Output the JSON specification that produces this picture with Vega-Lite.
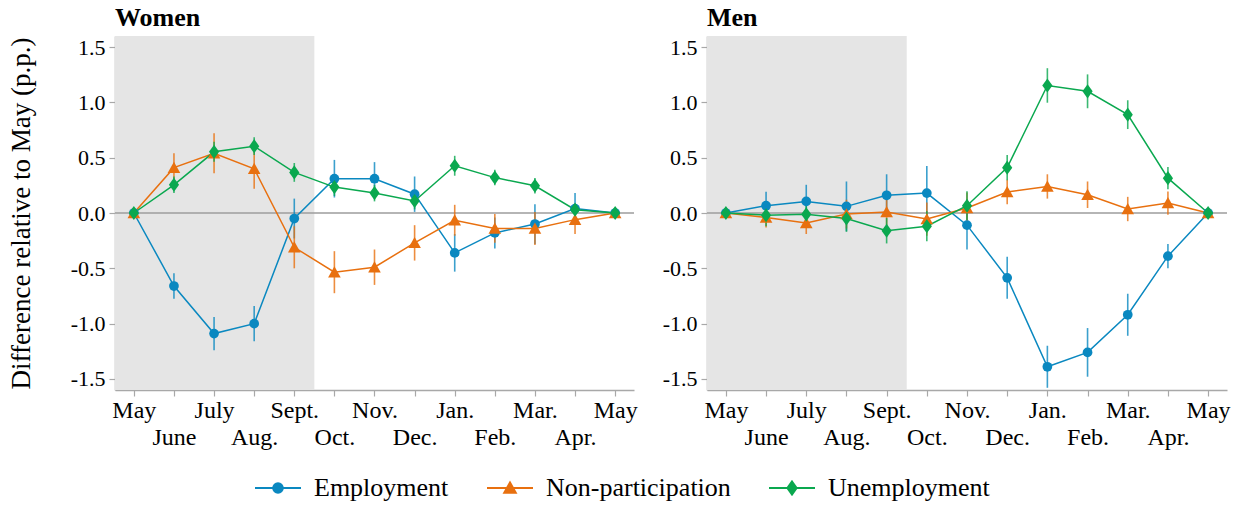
{
  "$schema": "https://vega.github.io/schema/vega-lite/v6.json",
  "padding": {"left": 7, "top": 5, "right": 5, "bottom": 5},
  "datasets": {
    "d": [
      {"g":"Women","s":"Employment","m":0,"v":0,"lo":0,"hi":0},
      {"g":"Women","s":"Employment","m":1,"v":-0.66,"lo":-0.775,"hi":-0.545},
      {"g":"Women","s":"Employment","m":2,"v":-1.09,"lo":-1.24,"hi":-0.94},
      {"g":"Women","s":"Employment","m":3,"v":-1.0,"lo":-1.16,"hi":-0.84},
      {"g":"Women","s":"Employment","m":4,"v":-0.05,"lo":-0.23,"hi":0.13},
      {"g":"Women","s":"Employment","m":5,"v":0.31,"lo":0.14,"hi":0.48},
      {"g":"Women","s":"Employment","m":6,"v":0.31,"lo":0.16,"hi":0.46},
      {"g":"Women","s":"Employment","m":7,"v":0.17,"lo":0.01,"hi":0.33},
      {"g":"Women","s":"Employment","m":8,"v":-0.36,"lo":-0.53,"hi":-0.19},
      {"g":"Women","s":"Employment","m":9,"v":-0.18,"lo":-0.32,"hi":-0.04},
      {"g":"Women","s":"Employment","m":10,"v":-0.1,"lo":-0.28,"hi":0.08},
      {"g":"Women","s":"Employment","m":11,"v":0.04,"lo":-0.1,"hi":0.18},
      {"g":"Women","s":"Employment","m":12,"v":0,"lo":0,"hi":0},
      {"g":"Women","s":"Non-participation","m":0,"v":0,"lo":-0.03,"hi":0.03},
      {"g":"Women","s":"Non-participation","m":1,"v":0.41,"lo":0.28,"hi":0.54},
      {"g":"Women","s":"Non-participation","m":2,"v":0.54,"lo":0.36,"hi":0.72},
      {"g":"Women","s":"Non-participation","m":3,"v":0.4,"lo":0.22,"hi":0.58},
      {"g":"Women","s":"Non-participation","m":4,"v":-0.31,"lo":-0.5,"hi":-0.12},
      {"g":"Women","s":"Non-participation","m":5,"v":-0.535,"lo":-0.725,"hi":-0.345},
      {"g":"Women","s":"Non-participation","m":6,"v":-0.49,"lo":-0.65,"hi":-0.33},
      {"g":"Women","s":"Non-participation","m":7,"v":-0.27,"lo":-0.43,"hi":-0.11},
      {"g":"Women","s":"Non-participation","m":8,"v":-0.066,"lo":-0.206,"hi":0.074},
      {"g":"Women","s":"Non-participation","m":9,"v":-0.14,"lo":-0.27,"hi":-0.01},
      {"g":"Women","s":"Non-participation","m":10,"v":-0.14,"lo":-0.29,"hi":0.01},
      {"g":"Women","s":"Non-participation","m":11,"v":-0.06,"lo":-0.19,"hi":0.07},
      {"g":"Women","s":"Non-participation","m":12,"v":0,"lo":-0.03,"hi":0.03},
      {"g":"Women","s":"Unemployment","m":0,"v":0,"lo":0,"hi":0},
      {"g":"Women","s":"Unemployment","m":1,"v":0.255,"lo":0.18,"hi":0.33},
      {"g":"Women","s":"Unemployment","m":2,"v":0.553,"lo":0.463,"hi":0.643},
      {"g":"Women","s":"Unemployment","m":3,"v":0.604,"lo":0.524,"hi":0.684},
      {"g":"Women","s":"Unemployment","m":4,"v":0.367,"lo":0.282,"hi":0.452},
      {"g":"Women","s":"Unemployment","m":5,"v":0.234,"lo":0.154,"hi":0.314},
      {"g":"Women","s":"Unemployment","m":6,"v":0.18,"lo":0.105,"hi":0.255},
      {"g":"Women","s":"Unemployment","m":7,"v":0.108,"lo":0.033,"hi":0.183},
      {"g":"Women","s":"Unemployment","m":8,"v":0.427,"lo":0.337,"hi":0.517},
      {"g":"Women","s":"Unemployment","m":9,"v":0.32,"lo":0.25,"hi":0.39},
      {"g":"Women","s":"Unemployment","m":10,"v":0.246,"lo":0.176,"hi":0.316},
      {"g":"Women","s":"Unemployment","m":11,"v":0.03,"lo":-0.015,"hi":0.075},
      {"g":"Women","s":"Unemployment","m":12,"v":0,"lo":0,"hi":0},
      {"g":"Men","s":"Employment","m":0,"v":0,"lo":0,"hi":0},
      {"g":"Men","s":"Employment","m":1,"v":0.066,"lo":-0.059,"hi":0.191},
      {"g":"Men","s":"Employment","m":2,"v":0.105,"lo":-0.045,"hi":0.255},
      {"g":"Men","s":"Employment","m":3,"v":0.06,"lo":-0.165,"hi":0.285},
      {"g":"Men","s":"Employment","m":4,"v":0.16,"lo":-0.03,"hi":0.35},
      {"g":"Men","s":"Employment","m":5,"v":0.18,"lo":-0.065,"hi":0.425},
      {"g":"Men","s":"Employment","m":6,"v":-0.11,"lo":-0.33,"hi":0.11},
      {"g":"Men","s":"Employment","m":7,"v":-0.586,"lo":-0.776,"hi":-0.396},
      {"g":"Men","s":"Employment","m":8,"v":-1.39,"lo":-1.58,"hi":-1.2},
      {"g":"Men","s":"Employment","m":9,"v":-1.26,"lo":-1.48,"hi":-1.04},
      {"g":"Men","s":"Employment","m":10,"v":-0.92,"lo":-1.11,"hi":-0.73},
      {"g":"Men","s":"Employment","m":11,"v":-0.39,"lo":-0.5,"hi":-0.28},
      {"g":"Men","s":"Employment","m":12,"v":0,"lo":0,"hi":0},
      {"g":"Men","s":"Non-participation","m":0,"v":0,"lo":-0.03,"hi":0.03},
      {"g":"Men","s":"Non-participation","m":1,"v":-0.04,"lo":-0.13,"hi":0.05},
      {"g":"Men","s":"Non-participation","m":2,"v":-0.09,"lo":-0.19,"hi":0.01},
      {"g":"Men","s":"Non-participation","m":3,"v":-0.01,"lo":-0.14,"hi":0.12},
      {"g":"Men","s":"Non-participation","m":4,"v":0.01,"lo":-0.11,"hi":0.13},
      {"g":"Men","s":"Non-participation","m":5,"v":-0.055,"lo":-0.205,"hi":0.095},
      {"g":"Men","s":"Non-participation","m":6,"v":0.045,"lo":-0.095,"hi":0.185},
      {"g":"Men","s":"Non-participation","m":7,"v":0.19,"lo":0.08,"hi":0.3},
      {"g":"Men","s":"Non-participation","m":8,"v":0.24,"lo":0.13,"hi":0.35},
      {"g":"Men","s":"Non-participation","m":9,"v":0.165,"lo":0.045,"hi":0.285},
      {"g":"Men","s":"Non-participation","m":10,"v":0.036,"lo":-0.074,"hi":0.146},
      {"g":"Men","s":"Non-participation","m":11,"v":0.09,"lo":-0.015,"hi":0.195},
      {"g":"Men","s":"Non-participation","m":12,"v":0,"lo":-0.03,"hi":0.03},
      {"g":"Men","s":"Unemployment","m":0,"v":0,"lo":-0.03,"hi":0.03},
      {"g":"Men","s":"Unemployment","m":1,"v":-0.02,"lo":-0.12,"hi":0.08},
      {"g":"Men","s":"Unemployment","m":2,"v":-0.012,"lo":-0.112,"hi":0.088},
      {"g":"Men","s":"Unemployment","m":3,"v":-0.05,"lo":-0.17,"hi":0.07},
      {"g":"Men","s":"Unemployment","m":4,"v":-0.16,"lo":-0.275,"hi":-0.045},
      {"g":"Men","s":"Unemployment","m":5,"v":-0.12,"lo":-0.255,"hi":0.015},
      {"g":"Men","s":"Unemployment","m":6,"v":0.066,"lo":-0.064,"hi":0.196},
      {"g":"Men","s":"Unemployment","m":7,"v":0.41,"lo":0.295,"hi":0.525},
      {"g":"Men","s":"Unemployment","m":8,"v":1.153,"lo":0.997,"hi":1.309},
      {"g":"Men","s":"Unemployment","m":9,"v":1.1,"lo":0.947,"hi":1.253},
      {"g":"Men","s":"Unemployment","m":10,"v":0.889,"lo":0.759,"hi":1.019},
      {"g":"Men","s":"Unemployment","m":11,"v":0.315,"lo":0.215,"hi":0.415},
      {"g":"Men","s":"Unemployment","m":12,"v":0,"lo":0,"hi":0}
    ],
    "bands": [
      {"g":"Women","start":-0.47,"end":4.5,"zero":0},
      {"g":"Men","start":-0.47,"end":4.5,"zero":0}
    ]
  },
  "hconcat": [
    {
      "title": {"text": "Women"},
      "width": 519,
      "height": 354,
      "layer": [
        {"data": {"name": "d"}, "transform": [{"filter": "datum.g == 'None'"}],
          "mark": {"type": "point", "filled": false, "strokeWidth": 2},
          "encoding": {
            "x": {"field": "m", "type": "quantitative"},
            "y": {"field": "v", "type": "quantitative"},
            "color": {"field": "s", "type": "nominal", "title": null,
              "scale": {"domain": ["Employment","Non-participation","Unemployment"], "range": ["#0a88c0","#e8700f","#0aa84f"]},
              "legend": {"title": null}},
            "shape": {"field": "s", "type": "nominal", "title": null,
              "scale": {"domain": ["Employment","Non-participation","Unemployment"],
                "range": [
                  "M-1,0H1M-0.21,0A0.21,0.21,0,1,0,0.21,0A0.21,0.21,0,1,0,-0.21,0ZM-0.16,0A0.16,0.16,0,1,0,0.16,0A0.16,0.16,0,1,0,-0.16,0ZM-0.11,0A0.11,0.11,0,1,0,0.11,0A0.11,0.11,0,1,0,-0.11,0ZM-0.06,0A0.06,0.06,0,1,0,0.06,0A0.06,0.06,0,1,0,-0.06,0ZM-0.02,0A0.02,0.02,0,1,0,0.02,0A0.02,0.02,0,1,0,-0.02,0Z",
                  "M-1,0H1M0,-0.24L0.25,0.21L-0.25,0.21ZM0,-0.15L0.17,0.17L-0.17,0.17ZM0,-0.06L0.1,0.13L-0.1,0.13ZM0,0.02L0.03,0.09L-0.03,0.09Z",
                  "M-1,0H1M0,-0.28L0.2,0L0,0.28L-0.2,0ZM0,-0.2L0.14,0L0,0.2L-0.14,0ZM0,-0.12L0.085,0L0,0.12L-0.085,0ZM0,-0.045L0.03,0L0,0.045L-0.03,0Z"
                ]},
              "legend": {"title": null}}}},
        {"data": {"name": "bands"}, "transform": [{"filter": "datum.g == 'Women'"}],
          "mark": {"type": "rect", "fill": "#e5e5e5"},
          "encoding": {"x": {"field": "start", "type": "quantitative", "scale": {"domain": [-0.47, 12.47], "nice": false, "zero": false}}, "x2": {"field": "end"}}},
        {"data": {"name": "bands"}, "transform": [{"filter": "datum.g == 'Women'"}],
          "mark": {"type": "rule", "stroke": "#9c9c9c", "strokeWidth": 1.5},
          "encoding": {"y": {"field": "zero", "type": "quantitative", "scale": {"domain": [-1.6, 1.6], "nice": false, "zero": false}}}},
        {"data": {"name": "d"}, "transform": [{"filter": "datum.g == 'Women'"}],
          "mark": {"type": "rule", "strokeWidth": 1.6, "opacity": 0.8},
          "encoding": {
            "x": {"field": "m", "type": "quantitative", "title": null,
              "scale": {"domain": [-0.47, 12.47], "nice": false, "zero": false},
              "axis": {"values": [0,1,2,3,4,5,6,7,8,9,10,11,12], "labelOverlap": false,
                "labelExpr": "datum.value % 2 == 0 ? ['May','June','July','Aug.','Sept.','Oct.','Nov.','Dec.','Jan.','Feb.','Mar.','Apr.','May'][datum.value] : ['', ['May','June','July','Aug.','Sept.','Oct.','Nov.','Dec.','Jan.','Feb.','Mar.','Apr.','May'][datum.value]]"}},
            "y": {"field": "lo", "type": "quantitative", "title": "Difference relative to May (p.p.)",
              "scale": {"domain": [-1.6, 1.6], "nice": false, "zero": false},
              "axis": {"values": [-1.5,-1,-0.5,0,0.5,1,1.5], "labelOverlap": false,
                "labelExpr": "(datum.value < 0 ? '-' : '') + format(abs(datum.value), '.1f')"}},
            "y2": {"field": "hi"},
            "xOffset": {"field": "s", "type": "nominal", "scale": {"domain": ["Employment","Non-participation","Unemployment"], "range": [-3, 0, 3.5]}},
            "color": {"field": "s", "type": "nominal", "title": null}}},
        {"data": {"name": "d"}, "transform": [{"filter": "datum.g == 'Women'"}],
          "mark": {"type": "line", "strokeWidth": 1.5},
          "encoding": {
            "x": {"field": "m", "type": "quantitative"},
            "y": {"field": "v", "type": "quantitative"},
            "xOffset": {"field": "s", "type": "nominal"},
            "color": {"field": "s", "type": "nominal", "title": null}}},
        {"data": {"name": "d"}, "transform": [{"filter": "datum.g == 'Women' && datum.s == 'Employment'"}],
          "mark": {"type": "point", "filled": true, "opacity": 1, "shape": "circle", "size": 95},
          "encoding": {"x": {"field": "m", "type": "quantitative"}, "y": {"field": "v", "type": "quantitative"}, "xOffset": {"field": "s", "type": "nominal"}, "color": {"field": "s", "type": "nominal", "title": null}}},
        {"data": {"name": "d"}, "transform": [{"filter": "datum.g == 'Women' && datum.s == 'Non-participation'"}],
          "mark": {"type": "point", "filled": true, "opacity": 1, "shape": "M0,-0.85L0.9,0.75L-0.9,0.75Z", "size": 196},
          "encoding": {"x": {"field": "m", "type": "quantitative"}, "y": {"field": "v", "type": "quantitative"}, "xOffset": {"field": "s", "type": "nominal"}, "color": {"field": "s", "type": "nominal", "title": null}}},
        {"data": {"name": "d"}, "transform": [{"filter": "datum.g == 'Women' && datum.s == 'Unemployment'"}],
          "mark": {"type": "point", "filled": true, "opacity": 1, "shape": "M0,-1L0.72,0L0,1L-0.72,0Z", "size": 200},
          "encoding": {"x": {"field": "m", "type": "quantitative"}, "y": {"field": "v", "type": "quantitative"}, "xOffset": {"field": "s", "type": "nominal"}, "color": {"field": "s", "type": "nominal", "title": null}}}
      ]
    },
    {
      "title": {"text": "Men"},
      "width": 520,
      "height": 354,
      "layer": [
        {"data": {"name": "bands"}, "transform": [{"filter": "datum.g == 'Men'"}],
          "mark": {"type": "rect", "fill": "#e5e5e5"},
          "encoding": {"x": {"field": "start", "type": "quantitative", "scale": {"domain": [-0.47, 12.47], "nice": false, "zero": false}}, "x2": {"field": "end"}}},
        {"data": {"name": "bands"}, "transform": [{"filter": "datum.g == 'Men'"}],
          "mark": {"type": "rule", "stroke": "#9c9c9c", "strokeWidth": 1.5},
          "encoding": {"y": {"field": "zero", "type": "quantitative", "scale": {"domain": [-1.6, 1.6], "nice": false, "zero": false}}}},
        {"data": {"name": "d"}, "transform": [{"filter": "datum.g == 'Men'"}],
          "mark": {"type": "rule", "strokeWidth": 1.6, "opacity": 0.8},
          "encoding": {
            "x": {"field": "m", "type": "quantitative", "title": null,
              "scale": {"domain": [-0.47, 12.47], "nice": false, "zero": false},
              "axis": {"values": [0,1,2,3,4,5,6,7,8,9,10,11,12], "labelOverlap": false,
                "labelExpr": "datum.value % 2 == 0 ? ['May','June','July','Aug.','Sept.','Oct.','Nov.','Dec.','Jan.','Feb.','Mar.','Apr.','May'][datum.value] : ['', ['May','June','July','Aug.','Sept.','Oct.','Nov.','Dec.','Jan.','Feb.','Mar.','Apr.','May'][datum.value]]"}},
            "y": {"field": "lo", "type": "quantitative", "title": null,
              "scale": {"domain": [-1.6, 1.6], "nice": false, "zero": false},
              "axis": {"values": [-1.5,-1,-0.5,0,0.5,1,1.5], "labelOverlap": false,
                "labelExpr": "(datum.value < 0 ? '-' : '') + format(abs(datum.value), '.1f')"}},
            "y2": {"field": "hi"},
            "xOffset": {"field": "s", "type": "nominal", "scale": {"domain": ["Employment","Non-participation","Unemployment"], "range": [-3, 0, 3.5]}},
            "color": {"field": "s", "type": "nominal", "title": null}}},
        {"data": {"name": "d"}, "transform": [{"filter": "datum.g == 'Men'"}],
          "mark": {"type": "line", "strokeWidth": 1.5},
          "encoding": {
            "x": {"field": "m", "type": "quantitative"},
            "y": {"field": "v", "type": "quantitative"},
            "xOffset": {"field": "s", "type": "nominal"},
            "color": {"field": "s", "type": "nominal", "title": null}}},
        {"data": {"name": "d"}, "transform": [{"filter": "datum.g == 'Men' && datum.s == 'Employment'"}],
          "mark": {"type": "point", "filled": true, "opacity": 1, "shape": "circle", "size": 95},
          "encoding": {"x": {"field": "m", "type": "quantitative"}, "y": {"field": "v", "type": "quantitative"}, "xOffset": {"field": "s", "type": "nominal"}, "color": {"field": "s", "type": "nominal", "title": null}}},
        {"data": {"name": "d"}, "transform": [{"filter": "datum.g == 'Men' && datum.s == 'Non-participation'"}],
          "mark": {"type": "point", "filled": true, "opacity": 1, "shape": "M0,-0.85L0.9,0.75L-0.9,0.75Z", "size": 196},
          "encoding": {"x": {"field": "m", "type": "quantitative"}, "y": {"field": "v", "type": "quantitative"}, "xOffset": {"field": "s", "type": "nominal"}, "color": {"field": "s", "type": "nominal", "title": null}}},
        {"data": {"name": "d"}, "transform": [{"filter": "datum.g == 'Men' && datum.s == 'Unemployment'"}],
          "mark": {"type": "point", "filled": true, "opacity": 1, "shape": "M0,-1L0.72,0L0,1L-0.72,0Z", "size": 200},
          "encoding": {"x": {"field": "m", "type": "quantitative"}, "y": {"field": "v", "type": "quantitative"}, "xOffset": {"field": "s", "type": "nominal"}, "color": {"field": "s", "type": "nominal", "title": null}}}
      ]
    }
  ],
  "spacing": 24,
  "config": {
    "view": {"stroke": null},
    "font": "Liberation Serif",
    "axis": {"domainColor": "#a8a8a8", "tickColor": "#a8a8a8", "labelColor": "#000000", "labelFontSize": 24, "titleFontSize": 27, "titleFontWeight": "normal", "titleColor": "#000000", "grid": false, "tickSize": 6, "domainWidth": 1.5, "tickWidth": 1.2, "labelPadding": 2, "labelLineHeight": 27},
    "axisY": {"titlePadding": 35, "labelFontSize": 22, "labelPadding": 4},
    "title": {"fontSize": 26, "fontWeight": "bold", "anchor": "start", "frame": "group", "color": "#000000", "offset": 5},
    "legend": {"orient": "none", "legendX": 139, "legendY": 428, "direction": "horizontal", "labelFont": "Liberation Serif", "labelColor": "#000000", "labelFontSize": 26, "symbolSize": 2116, "symbolStrokeWidth": 2, "symbolOpacity": 1, "labelOffset": 12, "columnPadding": 34, "labelLimit": 400}
  }
}
